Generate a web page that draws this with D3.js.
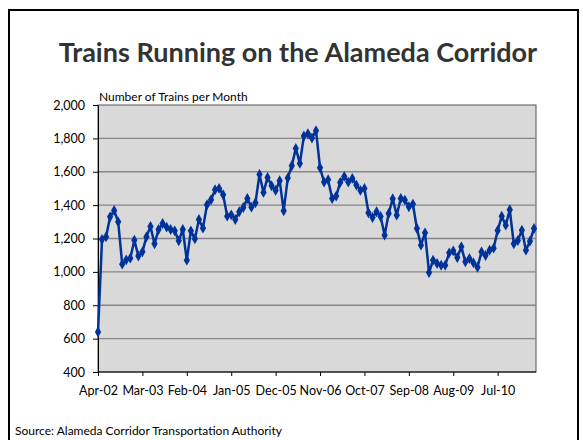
<!DOCTYPE html>
<html>
<head>
<meta charset="utf-8">
<script src="https://d3js.org/d3.v7.min.js"></script>
<style>
  body { margin: 0; background: #fff; }
  text { font-family: Lato, "Open Sans", sans-serif; fill: #000; }
  .y.axis path { stroke: #000; }
  .y.axis line, .x.axis line { stroke: #000; }
  .x.axis path { stroke: #000; }
</style>
</head>
<body>
<script>
// monthly train counts, Apr-02 .. Apr-11
var trains = [
  640, 1195, 1210, 1330, 1368, 1300, 1046, 1072, 1082, 1190, 1095, 1120,
  1210, 1272, 1168, 1254, 1290, 1268, 1254, 1246, 1186, 1254, 1070, 1246,
  1198, 1314, 1262, 1402, 1432, 1492, 1500, 1462, 1334, 1342, 1314, 1360,
  1386, 1440, 1388, 1414, 1584, 1476, 1566, 1516, 1488, 1546, 1366, 1562,
  1636, 1740, 1650, 1814, 1828, 1802, 1846, 1624, 1538, 1552, 1440, 1454,
  1536, 1572, 1538, 1560, 1520, 1488, 1500, 1354, 1326, 1360, 1332, 1220,
  1350, 1438, 1340, 1440, 1430, 1390, 1406, 1260, 1160, 1234, 996, 1070,
  1050, 1040, 1040, 1114, 1126, 1086, 1150, 1060, 1080, 1054, 1028, 1120,
  1098, 1130, 1142, 1248, 1334, 1280, 1372, 1168, 1188, 1250, 1130, 1184,
  1260
];
var months = d3.timeMonth.range(new Date(2002, 3, 1), new Date(2011, 4, 1));
var monthLabel = d3.timeFormat("%b-%y");
var tickLabels = ["Apr-02", "Mar-03", "Feb-04", "Jan-05", "Dec-05", "Nov-06",
                  "Oct-07", "Sep-08", "Aug-09", "Jul-10"];
var yTicks = [400, 600, 800, 1000, 1200, 1400, 1600, 1800, 2000];

var W = 583, H = 440;
var plot = { left: 98, right: 536, top: 105, bottom: 372 };

var svg = d3.select("body").append("svg").attr("width", W).attr("height", H);

// outer frame
svg.append("rect")
  .attr("x", 9).attr("y", 10).attr("width", 569).attr("height", 440)
  .attr("fill", "none").attr("stroke", "#000").attr("stroke-width", 2);

svg.append("text")
  .attr("x", 298).attr("y", 62)
  .attr("text-anchor", "middle")
  .style("font-size", "27px").style("font-weight", "bold").style("fill", "#333")
  .text("Trains Running on the Alameda Corridor");

var labels = months.map(monthLabel);
var x = d3.scalePoint().domain(labels).range([plot.left, plot.right - 2]);
var y = d3.scaleLinear().domain([400, 2000]).range([plot.bottom, plot.top]);

svg.append("rect")
  .attr("x", plot.left).attr("y", plot.top)
  .attr("width", plot.right - plot.left).attr("height", plot.bottom - plot.top)
  .attr("fill", "#d9d9d9").attr("stroke", "#555").attr("stroke-width", 1);

// gridlines
svg.append("g").selectAll("line")
  .data(yTicks.slice(1, -1)).enter().append("line")
  .attr("x1", plot.left).attr("x2", plot.right)
  .attr("y1", d => y(d)).attr("y2", d => y(d))
  .attr("stroke", "#868686").attr("stroke-width", 1.3);

var yAxis = d3.axisLeft(y).tickValues(yTicks).tickSize(5).tickSizeOuter(0)
  .tickFormat(d3.format(","));
svg.append("g").attr("class", "y axis")
  .attr("transform", "translate(" + plot.left + ",0)")
  .call(yAxis)
  .call(g => g.selectAll("text").attr("x", -13).style("font-size", "12.5px"));

var xAxis = d3.axisBottom(x).tickValues(tickLabels).tickSize(4).tickSizeOuter(0);
svg.append("g").attr("class", "x axis")
  .attr("transform", "translate(0," + plot.bottom + ")")
  .call(xAxis)
  .call(g => g.select(".domain").attr("d", "M" + plot.left + ",0H" + plot.right))
  .call(g => g.selectAll("text").attr("y", 14).style("font-size", "12.5px"));

svg.append("text")
  .attr("x", 99).attr("y", 101)
  .style("font-size", "12px")
  .text("Number of Trains per Month");

var line = d3.line()
  .x((d, i) => x(labels[i]))
  .y(d => y(d));

svg.append("path")
  .datum(trains)
  .attr("d", line)
  .attr("fill", "none")
  .attr("stroke", "#003399")
  .attr("stroke-width", 2.5)
  .attr("stroke-linejoin", "round");

var diamond = d3.symbol().type(d3.symbolDiamond).size(34);
svg.append("g").selectAll("path")
  .data(trains).enter().append("path")
  .attr("transform", (d, i) => "translate(" + x(labels[i]) + "," + y(d) + ")")
  .attr("d", diamond)
  .attr("fill", "#003399");

svg.append("text")
  .attr("x", 15).attr("y", 435)
  .style("font-size", "12px")
  .text("Source:  Alameda Corridor Transportation Authority");
</script>
</body>
</html>
